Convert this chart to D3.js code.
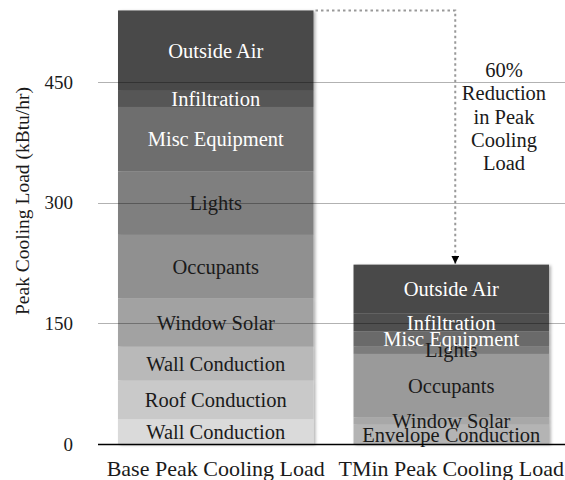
<!DOCTYPE html>
<html>
<head>
<meta charset="utf-8">
<script src="https://cdn.jsdelivr.net/npm/d3@7"></script>
<style>
  body { margin: 0; background: #fff; }
  svg { font-family: "Liberation Serif", "Times New Roman", serif; }
</style>
</head>
<body>
<div id="chart"></div>
<script>
// bar categories
const categories = ["Base Peak Cooling Load", "TMin Peak Cooling Load"];

// stacked components, bottom to top (kBtu/hr)
const baseComponents = ["Wall Conduction", "Roof Conduction", "Wall Conduction", "Window Solar",
  "Occupants", "Lights", "Misc Equipment", "Infiltration", "Outside Air"];
const baseValues = [31, 48, 42, 60, 79, 79, 80, 20, 100];

const tminComponents = ["Envelope Conduction", "Window Solar", "Occupants", "Lights",
  "Misc Equipment", "Infiltration", "Outside Air"];
const tminValues = [24, 9, 79, 9, 19, 22, 61];

const yTicks = [0, 150, 300, 450];
const annotationLines = ["60%", "Reduction", "in Peak", "Cooling", "Load"];

// grey shades per segment (style only)
const baseShades = ["#dadada", "#c9c9c9", "#b9b9b9", "#a2a2a2", "#909090", "#7f7f7f", "#6e6e6e", "#565656", "#484848"];
const tminShades = ["#b4b4b4", "#a8a8a8", "#9a9a9a", "#7c7c7c", "#6a6a6a", "#505050", "#484848"];

const width = 565, height = 480;

const svg = d3.select("#chart").append("svg")
  .attr("width", width)
  .attr("height", height);

const defs = svg.append("defs");
const shadow = defs.append("filter").attr("id", "shadow")
  .attr("x", "-5%").attr("y", "-5%").attr("width", "115%").attr("height", "115%");
shadow.append("feDropShadow")
  .attr("dx", 2).attr("dy", 1)
  .attr("stdDeviation", 1.6)
  .attr("flood-color", "#000")
  .attr("flood-opacity", 0.3);

const x = d3.scaleBand()
  .domain(categories)
  .range([98, 569])
  .paddingInner(0.17)
  .paddingOuter(0.085);

const y = d3.scaleLinear()
  .domain([0, 550])
  .range([444, 1.6]);

// build stacks
function stack(names, values, shades) {
  let acc = 0;
  return names.map((n, i) => {
    const seg = { name: n, y0: acc, y1: acc + values[i], fill: shades[i] };
    acc += values[i];
    return seg;
  });
}
const stacks = [
  { cat: categories[0], segs: stack(baseComponents, baseValues, baseShades) },
  { cat: categories[1], segs: stack(tminComponents, tminValues, tminShades) }
];

// bars
const barG = svg.append("g");
stacks.forEach(s => {
  const g = barG.append("g").attr("filter", "url(#shadow)");
  g.selectAll("rect")
    .data(s.segs)
    .join("rect")
      .attr("x", x(s.cat))
      .attr("width", x.bandwidth())
      .attr("y", d => y(d.y1))
      .attr("height", d => y(d.y0) - y(d.y1))
      .attr("fill", d => d.fill);
});

// gridlines on top of bars
svg.append("g")
  .selectAll("line")
  .data(yTicks.filter(t => t > 0))
  .join("line")
    .attr("x1", 98).attr("x2", width)
    .attr("y1", d => Math.round(y(d)) + 0.5)
    .attr("y2", d => Math.round(y(d)) + 0.5)
    .attr("stroke", "#000")
    .attr("stroke-opacity", 0.3)
    .attr("stroke-width", 1);

// segment labels
stacks.forEach(s => {
  svg.append("g")
    .selectAll("text")
    .data(s.segs)
    .join("text")
      .attr("x", x(s.cat) + x.bandwidth() / 2)
      .attr("y", d => y((d.y0 + d.y1) / 2))
      .attr("dy", "0.35em")
      .attr("text-anchor", "middle")
      .attr("font-size", "20.5px")
      .attr("fill", d => d3.hsl(d.fill).l < 0.45 ? "#fff" : "#1a1a1a")
      .text(d => d.name);
});

// baseline
svg.append("line")
  .attr("x1", 98).attr("x2", width)
  .attr("y1", y(0) + 0.5).attr("y2", y(0) + 0.5)
  .attr("stroke", "#000")
  .attr("stroke-width", 1.3);

// y tick labels
svg.append("g")
  .selectAll("text")
  .data(yTicks)
  .join("text")
    .attr("x", 73)
    .attr("y", d => y(d))
    .attr("dy", "0.35em")
    .attr("text-anchor", "end")
    .attr("font-size", "19px")
    .attr("fill", "#1a1a1a")
    .text(d => d);

// y axis title
svg.append("text")
  .attr("transform", "translate(29,201) rotate(-90)")
  .attr("text-anchor", "middle")
  .attr("font-size", "19.5px")
  .attr("fill", "#1a1a1a")
  .text("Peak Cooling Load (kBtu/hr)");

// x labels
svg.append("g")
  .selectAll("text")
  .data(categories)
  .join("text")
    .attr("x", d => x(d) + x.bandwidth() / 2)
    .attr("y", 476)
    .attr("text-anchor", "middle")
    .attr("font-size", "22px")
    .attr("fill", "#1a1a1a")
    .text(d => d);

// reduction annotation: dotted connector from base top to TMin top
const baseTop = d3.sum(baseValues), tminTop = d3.sum(tminValues);
const xStart = x(categories[0]) + x.bandwidth() + 2;
const xTurn = x(categories[1]) + x.bandwidth() / 2 + 4;

defs.append("marker")
  .attr("id", "arrow")
  .attr("viewBox", "0 0 10 10")
  .attr("refX", 10).attr("refY", 5)
  .attr("markerWidth", 4).attr("markerHeight", 4)
  .attr("orient", "auto")
  .append("path")
    .attr("d", "M0,0L10,5L0,10Z")
    .attr("fill", "#000");

svg.append("path")
  .attr("d", `M${xStart},${y(baseTop)}H${xTurn}V${y(tminTop) - 1}`)
  .attr("fill", "none")
  .attr("stroke", "#999")
  .attr("stroke-width", 2)
  .attr("stroke-dasharray", "2.5,3")
  .attr("marker-end", "url(#arrow)");

svg.append("g")
  .selectAll("text")
  .data(annotationLines)
  .join("text")
    .attr("x", 504)
    .attr("y", (d, i) => 70 + i * 23.3)
    .attr("dy", "0.35em")
    .attr("text-anchor", "middle")
    .attr("font-size", "20.5px")
    .attr("fill", "#1a1a1a")
    .text(d => d);
</script>
</body>
</html>
